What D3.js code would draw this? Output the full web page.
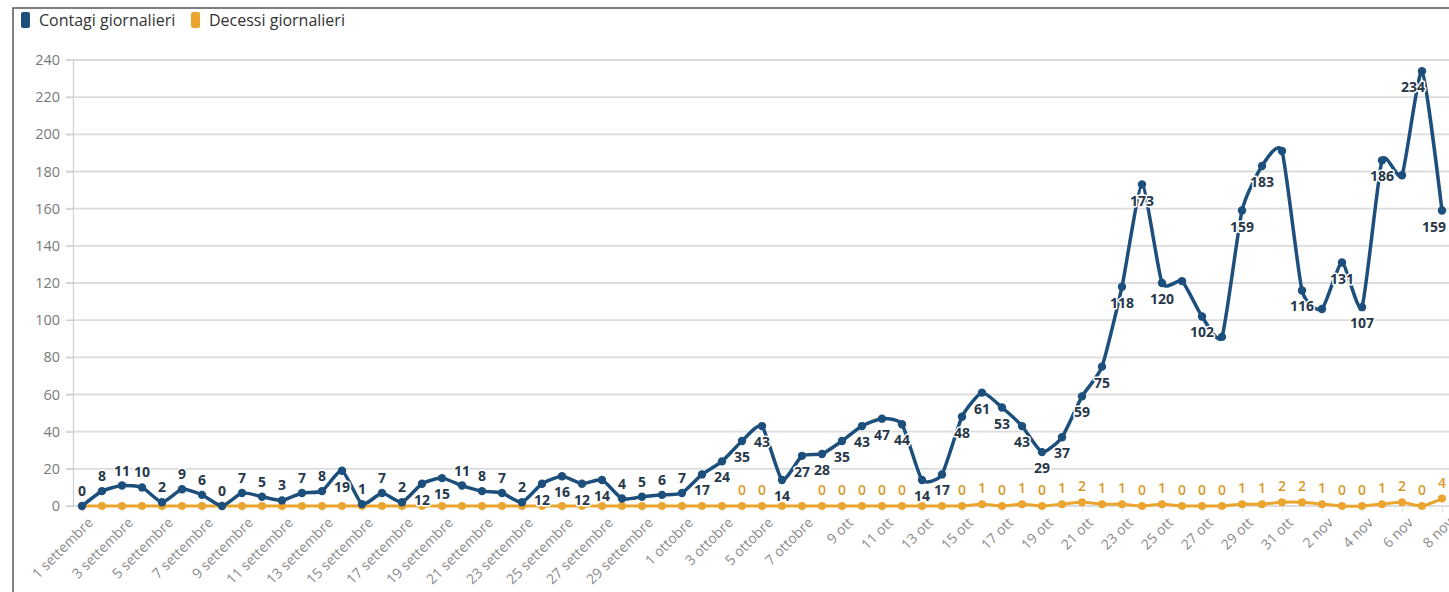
<!DOCTYPE html>
<html><head><meta charset="utf-8">
<script src="https://cdn.jsdelivr.net/npm/d3@7"></script>
<style>
html,body{margin:0;padding:0;background:#fff;}
svg{display:block;font-family:"Open Sans",Lato,sans-serif;}
</style></head>
<body>
<svg id="c" width="1449" height="592"></svg>
<script>
const categories = [
 "1 settembre","2 settembre","3 settembre","4 settembre","5 settembre","6 settembre","7 settembre","8 settembre","9 settembre","10 settembre",
 "11 settembre","12 settembre","13 settembre","14 settembre","15 settembre","16 settembre","17 settembre","18 settembre","19 settembre","20 settembre",
 "21 settembre","22 settembre","23 settembre","24 settembre","25 settembre","26 settembre","27 settembre","28 settembre","29 settembre","30 settembre",
 "1 ottobre","2 ottobre","3 ottobre","4 ottobre","5 ottobre","6 ottobre","7 ottobre","8 ottobre","9 ott","10 ott",
 "11 ott","12 ott","13 ott","14 ott","15 ott","16 ott","17 ott","18 ott","19 ott","20 ott",
 "21 ott","22 ott","23 ott","24 ott","25 ott","26 ott","27 ott","28 ott","29 ott","30 ott","31 ott",
 "1 nov","2 nov","3 nov","4 nov","5 nov","6 nov","7 nov","8 nov"
];
const contagi = [
 0,8,11,10,2,9,6,0,7,5,3,7,8,19,1,7,2,12,15,11,8,7,2,12,16,12,14,4,5,6,
 7,17,24,35,43,14,27,28,35,43,47,44,14,17,48,61,53,43,29,37,59,75,118,173,120,121,102,91,159,183,191,
 116,106,131,107,186,178,234,159
];
const decessi = [
 0,0,0,0,0,0,0,0,0,0,0,0,0,0,0,0,0,0,0,0,0,0,0,0,0,0,0,0,0,0,
 0,0,0,0,0,0,0,0,0,0,0,0,0,0,0,1,0,1,0,1,2,1,1,0,1,0,0,0,1,1,2,
 2,1,0,0,1,2,0,4
];
const yTicks = [0,20,40,60,80,100,120,140,160,180,200,220,240];
const hiddenContagiLabels = ["26 ott","28 ott","31 ott","2 nov","6 nov"];
const shownDecessiLabels = ["4 ottobre","5 ottobre","8 ottobre","9 ott","10 ott","11 ott","12 ott",
 "15 ott","16 ott","17 ott","18 ott","19 ott","20 ott","21 ott","22 ott","23 ott","24 ott","25 ott","26 ott","27 ott","28 ott","29 ott","30 ott","31 ott",
 "1 nov","2 nov","3 nov","4 nov","5 nov","6 nov","7 nov","8 nov"];
const seriesNames = ["Contagi giornalieri","Decessi giornalieri"];

const blue = "#1d4f7c", orange = "#eba52e";
const svg = d3.select("#c");

// frame
svg.append("rect").attr("x",13).attr("y",8).attr("width",1460).attr("height",620)
  .attr("fill","none").attr("stroke","#555").attr("stroke-width",1.5);

const x = d3.scalePoint().domain(categories).range([72,1452]).padding(0.5);
const y = d3.scaleLinear().domain([0,240]).range([506,60]);

// grid
svg.append("g").selectAll("line").data(yTicks).join("line")
  .attr("x1",66).attr("x2",1449).attr("y1",d=>y(d)).attr("y2",d=>y(d))
  .attr("stroke","#dcdcdc").attr("stroke-width",1.8);

// y axis
const ya = svg.append("g").attr("transform","translate(73,0)")
  .call(d3.axisLeft(y).tickValues(yTicks).tickSize(7).tickPadding(6));
ya.select(".domain").attr("stroke","#cfcfcf").attr("stroke-width",1.2);
ya.selectAll(".tick line").attr("stroke","#cfcfcf");
ya.selectAll("text").attr("fill","#7a7a7a").style("font-size","14.5px").style("font-family","'Open Sans',sans-serif");

// x axis
const xa = svg.append("g").attr("transform","translate(0,506)")
  .call(d3.axisBottom(x).tickValues(categories.filter((d,i)=>i%2===0)).tickSize(6));
xa.select(".domain").remove();
xa.selectAll(".tick line").attr("stroke","#e2e2e2");
xa.selectAll(".tick text")
  .attr("x",0).attr("y",0).attr("dx",null).attr("dy","0.35em")
  .attr("text-anchor","end")
  .attr("transform","translate(8,14) rotate(-45)")
  .attr("fill","#8a8a8a").style("font-size","14px").style("font-family","'Open Sans',sans-serif");

const data = categories.map((c,i)=>({c, a:contagi[i], d:decessi[i]}));
const curve = d3.curveCardinal.tension(0.45);

// decessi
svg.append("path").datum(data).attr("fill","none").attr("stroke",orange).attr("stroke-width",3)
  .attr("d",d3.line().x(d=>x(d.c)).y(d=>y(d.d)).curve(curve));
svg.append("g").selectAll("circle").data(data).join("circle")
  .attr("cx",d=>x(d.c)).attr("cy",d=>y(d.d)).attr("r",4).attr("fill",orange);

// contagi
svg.append("path").datum(data).attr("fill","none").attr("stroke",blue).attr("stroke-width",3.5)
  .attr("d",d3.line().x(d=>x(d.c)).y(d=>y(d.a)).curve(curve));
svg.append("g").selectAll("circle").data(data).join("circle")
  .attr("cx",d=>x(d.c)).attr("cy",d=>y(d.a)).attr("r",4.2).attr("fill",blue);

// decessi labels
svg.append("g").selectAll("text").data(data.filter(d=>shownDecessiLabels.includes(d.c))).join("text")
  .attr("x",d=>x(d.c)).attr("y",d=>y(d.d)-11).attr("text-anchor","middle")
  .attr("fill","#d99a2b").style("font-size","14px").style("font-weight","600").text(d=>d.d);

// contagi labels
const lastIdx = categories.length-1;
svg.append("g").selectAll("text").data(data.filter(d=>!hiddenContagiLabels.includes(d.c))).join("text")
  .attr("x",d=>{const i=categories.indexOf(d.c); return i===lastIdx ? x(d.c)+4 : (i===lastIdx-1 ? x(d.c)-9 : x(d.c));})
  .attr("y",d=>d.a<=11 ? y(d.a)-10 : y(d.a)+21)
  .attr("text-anchor",d=>categories.indexOf(d.c)===lastIdx ? "end" : "middle")
  .attr("fill","#27384a").attr("stroke","#fff").attr("stroke-width",3).attr("paint-order","stroke")
  .attr("stroke-linejoin","round")
  .style("font-size","14px").style("font-weight","700").text(d=>d.a);

// legend
const lg = svg.append("g").attr("transform","translate(21,12)");
[[blue,seriesNames[0],0],[orange,seriesNames[1],170]].forEach(([col,name,dx])=>{
  lg.append("rect").attr("x",dx).attr("y",0).attr("width",9).attr("height",16).attr("rx",2).attr("fill",col);
  lg.append("text").attr("x",dx+18).attr("y",13.5).attr("fill","#333").style("font-size","16px").text(name);
});
</script>
</body></html>
